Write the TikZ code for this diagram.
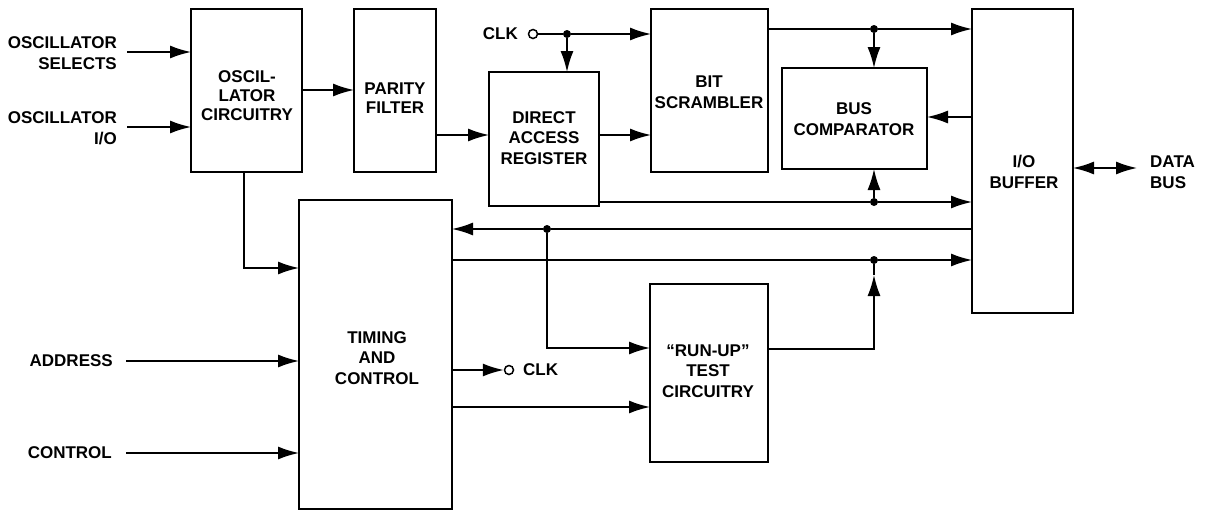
\documentclass[tikz,border=0pt]{standalone}
\usepackage{fontspec}
\setmainfont{Liberation Sans}
\usetikzlibrary{arrows.meta,calc}
\tikzset{hd/.tip={Latex[length=21pt,width=13pt]}}
\begin{document}
\begin{tikzpicture}[x=1pt,y=-1pt,
  blk/.style={draw,line width=2.8pt,inner sep=0pt,outer sep=0pt},
  txt/.style={inner sep=0pt,align=center,font=\bfseries\fontsize{17}{20.5}\selectfont},
  lbl/.style={inner sep=0pt,font=\bfseries\fontsize{17}{20.5}\selectfont},
  wire/.style={line width=1.6pt},
  arr/.style={wire,-{hd}},
  dot/.style={circle,fill,inner sep=0pt,minimum size=8pt},
  term/.style={circle,draw,line width=1.5pt,fill=white,inner sep=0pt,minimum size=9pt},
]
\useasboundingbox (0,0) rectangle (1210,512);
% boxes
\node[blk,minimum width=111pt,minimum height=163pt] (osc) at (246.5,90.5) {};
\node[blk,minimum width=82pt,minimum height=163pt] (par) at (395,90.5) {};
\node[blk,minimum width=110pt,minimum height=134pt] (dar) at (544,139) {};
\node[blk,minimum width=117pt,minimum height=163pt] (bit) at (709.5,90.5) {};
\node[blk,minimum width=145pt,minimum height=101pt] (bus) at (854.5,118.5) {};
\node[blk,minimum width=101pt,minimum height=304pt] (iob) at (1022.5,161) {};
\node[blk,minimum width=153pt,minimum height=309pt] (tim) at (375.5,354.5) {};
\node[blk,minimum width=118pt,minimum height=178pt] (run) at (709,373) {};
% box texts
\node[txt,font=\bfseries\fontsize{17}{19}\selectfont] (tosc) at (247,96) {OSCIL-\\LATOR\\CIRCUITRY};
\node[txt,font=\bfseries\fontsize{17}{18.5}\selectfont] (tpar) at (395,98) {PARITY\\FILTER};
\node[txt] (tdar) at (544,138) {DIRECT\\ACCESS\\REGISTER};
\node[txt] (tbit) at (709,92) {BIT\\SCRAMBLER};
\node[txt] (tbus) at (854,119) {BUS\\COMPARATOR};
\node[txt] (tiob) at (1024,172) {I/O\\BUFFER};
\node[txt] (ttim) at (377,358) {TIMING\\AND\\CONTROL};
\node[txt] (trun) at (708,371) {``RUN-UP''\\TEST\\CIRCUITRY};
% outside labels
\node[txt,align=right,anchor=east] (los) at (117,53) {OSCILLATOR\\SELECTS};
\node[txt,align=right,anchor=east] (loi) at (117,128) {OSCILLATOR\\I/O};
\node[lbl,anchor=east] (ladr) at (113,361) {ADDRESS};
\node[lbl,anchor=east] (lctl) at (112,453) {CONTROL};
\node[txt,align=left,anchor=west] (ldb) at (1150,172) {DATA\\BUS};
% inputs
\coordinate (s1) at (127,52);
\coordinate (s2) at (127,127);
\coordinate (a1) at (126,361);
\coordinate (c1) at (126,453);
\draw[arr] (s1) -- (s1 -| osc.west);
\draw[arr] (s2) -- (s2 -| osc.west);
\draw[arr] (a1) -- (a1 -| tim.west);
\draw[arr] (c1) -- (c1 -| tim.west);
% osc -> parity -> dar
\draw[arr] (osc.east |- 0,90) -- (par.west |- 0,90);
\draw[arr] (par.east |- 0,135) -- (dar.west |- 0,135);
\draw[arr] (osc.south -| 244,0) |- (tim.west |- 0,268);
% clk top
\node[term] (clk1) at (533,34) {};
\node[lbl,anchor=east] (lclk1) at (518,34) {CLK};
\node[dot] (d1) at (567,34) {};
\draw[wire] (clk1) -- (d1);
\draw[arr] (d1) -- (bit.west |- d1);
\draw[arr] (d1) -- (d1 |- dar.north);
% dar -> bit
\draw[arr] (dar.east |- 0,135) -- (bit.west |- 0,135);
% bit -> iob / bus
\node[dot] (d2) at (874,29) {};
\draw[wire] (bit.east |- d2) -- (d2);
\draw[arr] (d2) -- (iob.west |- d2);
\draw[arr] (d2) -- (d2 |- bus.north);
% iob -> bus
\draw[arr] (iob.west |- 0,117) -- (bus.east |- 0,117);
% dar -> iob / bus
\node[dot] (d3) at (874,202) {};
\draw[wire] (dar.east |- d3) -- (d3);
\draw[arr] (d3) -- (iob.west |- d3);
\draw[arr] (d3) -- (d3 |- bus.south);
% iob -> timing, run-up
\node[dot] (d4) at (547,229) {};
\draw[wire] (iob.west |- d4) -- (d4);
\draw[arr] (d4) -- (tim.east |- d4);
\draw[arr] (d4) |- (run.west |- 0,348);
% timing -> iob
\node[dot] (d5) at (874,260) {};
\draw[wire] (tim.east |- d5) -- (d5);
\draw[arr] (d5) -- (iob.west |- d5);
\coordinate (r5) at ($(d5)+(0,15)$);
\draw[arr] (run.east |- 0,349) -| (r5);
\draw[wire] (r5) -- (d5);
% timing -> clk, run
\node[term] (clk2) at (509,370) {};
\node[lbl,anchor=west] (lclk2) at (523,370) {CLK};
\draw[arr] (tim.east |- clk2) -- (clk2);
\draw[arr] (tim.east |- 0,407) -- (run.west |- 0,407);
% data bus
\coordinate (db) at (1137,168);
\draw[wire,{hd}-{hd}] (iob.east |- db) -- (db);
\end{tikzpicture}
\end{document}
